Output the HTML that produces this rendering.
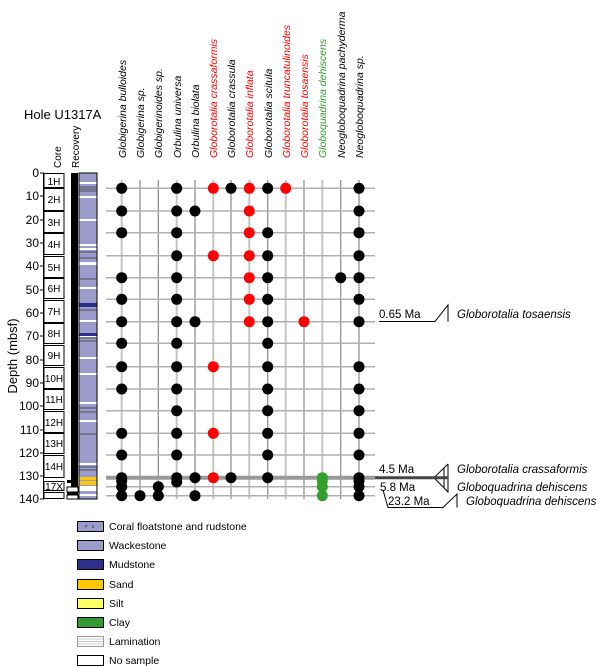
<!DOCTYPE html>
<html><head><meta charset="utf-8"><style>
body{margin:0;background:#fff}
svg{display:block;font-family:"Liberation Sans",Arial,sans-serif}
</style></head><body>
<svg width="600" height="666" viewBox="0 0 600 666" xmlns="http://www.w3.org/2000/svg">
<!-- header -->
<text x="24" y="119" font-size="13">Hole U1317A</text>
<text transform="translate(61,168) rotate(-90)" font-size="10">Core</text>
<text transform="translate(79,168) rotate(-90)" font-size="10">Recovery</text>
<g font-size="10.5" font-style="italic">
<text transform="translate(126,158) rotate(-90)">Globigerina bulloides</text>
<text transform="translate(144,158) rotate(-90)">Globigerina sp.</text>
<text transform="translate(162,158) rotate(-90)">Globigerinoides sp.</text>
<text transform="translate(181,158) rotate(-90)">Orbulina universa</text>
<text transform="translate(199,158) rotate(-90)">Orbulina biolata</text>
<text transform="translate(217,158) rotate(-90)" fill="#ff0000">Globorotalia crassaformis</text>
<text transform="translate(235,158) rotate(-90)">Globorotalia crassula</text>
<text transform="translate(253,158) rotate(-90)" fill="#ff0000">Globorotalia inflata</text>
<text transform="translate(272,158) rotate(-90)">Globorotalia scitula</text>
<text transform="translate(290,158) rotate(-90)" fill="#ff0000">Globorotalia truncatulinoides</text>
<text transform="translate(308,158) rotate(-90)" fill="#ff0000">Globorotalia tosaensis</text>
<text transform="translate(326,158) rotate(-90)" fill="#33a02c">Globoquadrina dehiscens</text>
<text transform="translate(345,158) rotate(-90)">Neogloboquadrina pachyderma</text>
<text transform="translate(363,158) rotate(-90)">Neogloboquadrina sp.</text>
</g>
<!-- depth axis -->
<text transform="translate(17,356) rotate(-90)" font-size="13" text-anchor="middle">Depth (mbsf)</text>
<g font-size="12" text-anchor="end">
<text x="39" y="177">0</text><text x="39" y="200">10</text><text x="39" y="224">20</text><text x="39" y="247">30</text>
<text x="39" y="270">40</text><text x="39" y="294">50</text><text x="39" y="317">60</text><text x="39" y="340">70</text>
<text x="39" y="364">80</text><text x="39" y="387">90</text><text x="39" y="410">100</text><text x="39" y="434">110</text>
<text x="39" y="457">120</text><text x="39" y="480">130</text><text x="39" y="503">140</text>
</g>
<line x1="43.5" y1="173" x2="43.5" y2="499" stroke="#000" stroke-width="1"/>
<g stroke="#000" stroke-width="1">
<line x1="40" y1="173" x2="44" y2="173"/><line x1="40" y1="196" x2="44" y2="196"/><line x1="40" y1="220" x2="44" y2="220"/>
<line x1="40" y1="243" x2="44" y2="243"/><line x1="40" y1="266" x2="44" y2="266"/><line x1="40" y1="290" x2="44" y2="290"/>
<line x1="40" y1="313" x2="44" y2="313"/><line x1="40" y1="336" x2="44" y2="336"/><line x1="40" y1="360" x2="44" y2="360"/>
<line x1="40" y1="383" x2="44" y2="383"/><line x1="40" y1="406" x2="44" y2="406"/><line x1="40" y1="430" x2="44" y2="430"/>
<line x1="40" y1="453" x2="44" y2="453"/><line x1="40" y1="476" x2="44" y2="476"/><line x1="40" y1="499" x2="44" y2="499"/>
</g>
<!-- core boxes -->
<g fill="#fff" stroke="#000" stroke-width="1">
<rect x="44" y="173.5" width="20" height="14"/><rect x="44" y="188.5" width="20" height="22"/>
<rect x="44" y="211.5" width="20" height="21"/><rect x="44" y="233.5" width="20" height="21"/>
<rect x="44" y="256.5" width="20" height="21"/><rect x="44" y="278.5" width="20" height="20"/>
<rect x="44" y="300.5" width="20" height="22"/><rect x="44" y="323.5" width="20" height="20"/>
<rect x="44" y="345.5" width="20" height="20"/><rect x="44" y="367.5" width="20" height="21"/>
<rect x="44" y="389.5" width="20" height="20"/><rect x="44" y="411.5" width="20" height="21"/>
<rect x="44" y="433.5" width="20" height="20"/><rect x="44" y="455.5" width="20" height="22"/>
<rect x="44" y="481.5" width="20" height="9"/><rect x="44" y="492.5" width="20" height="6"/>
</g>
<g font-size="10" text-anchor="middle">
<text x="54" y="185">1H</text><text x="54" y="203">2H</text><text x="54" y="226">3H</text><text x="54" y="248">4H</text>
<text x="54" y="271">5H</text><text x="54" y="292">6H</text><text x="54" y="315">7H</text><text x="54" y="337">8H</text>
<text x="54" y="359">9H</text><text x="54" y="382">10H</text><text x="54" y="403">11H</text><text x="54" y="426">12H</text>
<text x="54" y="447">13H</text><text x="54" y="470">14H</text><text x="54" y="490">17X</text>
</g>
<!-- recovery -->
<rect x="71" y="173" width="7" height="314" fill="#000"/>
<rect x="67" y="480" width="11" height="3" fill="#000"/>
<rect x="67" y="487" width="11" height="5" fill="#fff" stroke="#000"/>
<rect x="67" y="492" width="11" height="3" fill="#000"/>
<rect x="67" y="495" width="11" height="4" fill="#fff" stroke="#000"/>
<!-- lithology -->
<rect x="79" y="173" width="18" height="326" fill="#9c9ccc" stroke="#000" stroke-width="1"/>
<g fill="#fff">
<rect x="79.5" y="182" width="17" height="2"/><rect x="79.5" y="196" width="17" height="2"/>
<rect x="79.5" y="219" width="17" height="2"/><rect x="79.5" y="244" width="17" height="2"/>
<rect x="79.5" y="248" width="17" height="2"/><rect x="79.5" y="262" width="17" height="3"/>
<rect x="79.5" y="287" width="17" height="2"/><rect x="79.5" y="320" width="17" height="2"/>
<rect x="79.5" y="335" width="17" height="2"/><rect x="79.5" y="357" width="17" height="2"/>
<rect x="79.5" y="373" width="17" height="2"/><rect x="79.5" y="402" width="17" height="2"/>
<rect x="79.5" y="420" width="17" height="2"/><rect x="79.5" y="463" width="17" height="2"/>
<rect x="79.5" y="486" width="17" height="5"/><rect x="79.5" y="494" width="17" height="2"/>
</g>
<g stroke="#333" stroke-width="0.8">
<line x1="79" y1="187" x2="97" y2="187"/><line x1="79" y1="189" x2="97" y2="189"/><line x1="79" y1="191" x2="97" y2="191"/>
<line x1="79" y1="252" x2="97" y2="252"/><line x1="79" y1="258" x2="97" y2="258"/><line x1="79" y1="279" x2="97" y2="279"/>
<line x1="79" y1="310" x2="97" y2="310"/><line x1="79" y1="338" x2="97" y2="338"/><line x1="79" y1="341" x2="97" y2="341"/>
<line x1="79" y1="408" x2="97" y2="408"/><line x1="79" y1="412" x2="97" y2="412"/><line x1="79" y1="434" x2="97" y2="434"/>
<line x1="79" y1="467" x2="97" y2="467"/><line x1="79" y1="470" x2="97" y2="470"/>
</g>
<rect x="79.5" y="303" width="17" height="4" fill="#2e2e8c"/>
<rect x="79.5" y="333" width="17" height="3" fill="#2e2e8c"/>
<rect x="79.5" y="477" width="17" height="8" fill="#ffc800"/>
<rect x="79.5" y="480" width="17" height="1" fill="#9c9ccc"/>
<!-- grid -->
<g stroke="#c4c4c4" stroke-width="2">
<line x1="121.7" y1="180" x2="121.7" y2="499"/><line x1="176.7" y1="180" x2="176.7" y2="499"/>
<line x1="213.3" y1="180" x2="213.3" y2="499"/><line x1="249.3" y1="180" x2="249.3" y2="499"/>
<line x1="285.7" y1="180" x2="285.7" y2="499"/><line x1="322.3" y1="180" x2="322.3" y2="499"/>
</g>
<g stroke="#8a8a8a" stroke-width="1.2">
<line x1="140" y1="180" x2="140" y2="499"/><line x1="158.3" y1="180" x2="158.3" y2="499"/>
<line x1="195" y1="180" x2="195" y2="499"/><line x1="231" y1="180" x2="231" y2="499"/>
<line x1="267.7" y1="180" x2="267.7" y2="499"/><line x1="304" y1="180" x2="304" y2="499"/>
<line x1="340.7" y1="180" x2="340.7" y2="499"/><line x1="359" y1="180" x2="359" y2="499"/>
</g>
<g stroke="#b0b0b0" stroke-width="1.5">
<line x1="106" y1="188.3" x2="375" y2="188.3"/><line x1="106" y1="211" x2="375" y2="211"/>
<line x1="106" y1="232.7" x2="375" y2="232.7"/><line x1="106" y1="255.7" x2="375" y2="255.7"/>
<line x1="106" y1="277.7" x2="375" y2="277.7"/><line x1="106" y1="299.3" x2="375" y2="299.3"/>
<line x1="106" y1="321.7" x2="375" y2="321.7"/><line x1="106" y1="343.3" x2="375" y2="343.3"/>
<line x1="106" y1="366.7" x2="375" y2="366.7"/><line x1="106" y1="389" x2="375" y2="389"/>
<line x1="106" y1="410.7" x2="375" y2="410.7"/><line x1="106" y1="433.3" x2="375" y2="433.3"/>
<line x1="106" y1="455" x2="375" y2="455"/>
<line x1="106" y1="486.7" x2="375" y2="486.7"/><line x1="106" y1="495.7" x2="375" y2="495.7"/>
</g>
<line x1="106" y1="477.7" x2="375" y2="477.7" stroke="#999" stroke-width="4"/>
<!-- dots -->
<g fill="#000">
<circle cx="121.7" cy="188.3" r="5.5"/><circle cx="176.7" cy="188.3" r="5.5"/><circle cx="231" cy="188.3" r="5.5"/><circle cx="267.7" cy="188.3" r="5.5"/><circle cx="359" cy="188.3" r="5.5"/>
<circle cx="121.7" cy="211" r="5.5"/><circle cx="176.7" cy="211" r="5.5"/><circle cx="195" cy="211" r="5.5"/><circle cx="359" cy="211" r="5.5"/>
<circle cx="121.7" cy="232.7" r="5.5"/><circle cx="176.7" cy="232.7" r="5.5"/><circle cx="267.7" cy="232.7" r="5.5"/><circle cx="359" cy="232.7" r="5.5"/>
<circle cx="176.7" cy="255.7" r="5.5"/><circle cx="267.7" cy="255.7" r="5.5"/><circle cx="359" cy="255.7" r="5.5"/>
<circle cx="121.7" cy="277.7" r="5.5"/><circle cx="176.7" cy="277.7" r="5.5"/><circle cx="267.7" cy="277.7" r="5.5"/><circle cx="340.7" cy="277.7" r="5.5"/><circle cx="359" cy="277.7" r="5.5"/>
<circle cx="121.7" cy="299.3" r="5.5"/><circle cx="176.7" cy="299.3" r="5.5"/><circle cx="267.7" cy="299.3" r="5.5"/><circle cx="359" cy="299.3" r="5.5"/>
<circle cx="121.7" cy="321.7" r="5.5"/><circle cx="176.7" cy="321.7" r="5.5"/><circle cx="195" cy="321.7" r="5.5"/><circle cx="267.7" cy="321.7" r="5.5"/><circle cx="359" cy="321.7" r="5.5"/>
<circle cx="121.7" cy="343.3" r="5.5"/><circle cx="176.7" cy="343.3" r="5.5"/><circle cx="267.7" cy="343.3" r="5.5"/>
<circle cx="121.7" cy="366.7" r="5.5"/><circle cx="176.7" cy="366.7" r="5.5"/><circle cx="267.7" cy="366.7" r="5.5"/><circle cx="359" cy="366.7" r="5.5"/>
<circle cx="121.7" cy="389" r="5.5"/><circle cx="176.7" cy="389" r="5.5"/><circle cx="267.7" cy="389" r="5.5"/><circle cx="359" cy="389" r="5.5"/>
<circle cx="176.7" cy="410.7" r="5.5"/><circle cx="267.7" cy="410.7" r="5.5"/><circle cx="359" cy="410.7" r="5.5"/>
<circle cx="121.7" cy="433.3" r="5.5"/><circle cx="176.7" cy="433.3" r="5.5"/><circle cx="267.7" cy="433.3" r="5.5"/><circle cx="359" cy="433.3" r="5.5"/>
<circle cx="121.7" cy="455" r="5.5"/><circle cx="176.7" cy="455" r="5.5"/><circle cx="267.7" cy="455" r="5.5"/><circle cx="359" cy="455" r="5.5"/>
<circle cx="121.7" cy="477.7" r="5.5"/><circle cx="121.7" cy="481" r="5.5"/><circle cx="176.7" cy="477.7" r="5.5"/><circle cx="176.7" cy="482" r="5.5"/><circle cx="195" cy="477.7" r="5.5"/><circle cx="231" cy="477.7" r="5.5"/><circle cx="267.7" cy="477.7" r="5.5"/><circle cx="359" cy="477.7" r="5.5"/><circle cx="359" cy="481" r="5.5"/>
<circle cx="121.7" cy="486.7" r="5.5"/><circle cx="158.3" cy="486.7" r="5.5"/><circle cx="359" cy="486.7" r="5.5"/>
<circle cx="121.7" cy="495.7" r="5.5"/><circle cx="140" cy="495.7" r="5.5"/><circle cx="158.3" cy="495.7" r="5.5"/><circle cx="195" cy="495.7" r="5.5"/><circle cx="359" cy="495.7" r="5.5"/>
</g>
<g fill="#ff0000">
<circle cx="213.3" cy="188.3" r="5.5"/><circle cx="249.3" cy="188.3" r="5.5"/><circle cx="285.7" cy="188.3" r="5.5"/>
<circle cx="249.3" cy="211" r="5.5"/><circle cx="249.3" cy="232.7" r="5.5"/>
<circle cx="213.3" cy="255.7" r="5.5"/><circle cx="249.3" cy="255.7" r="5.5"/>
<circle cx="249.3" cy="277.7" r="5.5"/><circle cx="249.3" cy="299.3" r="5.5"/>
<circle cx="249.3" cy="321.7" r="5.5"/><circle cx="304" cy="321.7" r="5.5"/>
<circle cx="213.3" cy="366.7" r="5.5"/><circle cx="213.3" cy="433.3" r="5.5"/><circle cx="213.3" cy="477.7" r="5.5"/>
</g>
<g fill="#33a02c">
<circle cx="322.3" cy="477.7" r="5.5"/><circle cx="322.3" cy="481" r="5.5"/><circle cx="322.3" cy="486.7" r="5.5"/><circle cx="322.3" cy="495.7" r="5.5"/>
</g>
<!-- datums -->
<g font-size="11.5">
<text x="379" y="318">0.65 Ma</text>
<text x="379" y="473">4.5 Ma</text>
<text x="380" y="491">5.8 Ma</text>
<text x="388" y="505">23.2 Ma</text>
</g>
<g font-size="11.5" font-style="italic">
<text x="457" y="318">Globorotalia tosaensis</text>
<text x="457" y="473">Globorotalia crassaformis</text>
<text x="457" y="491">Globoquadrina dehiscens</text>
<text x="466" y="505">Globoquadrina dehiscens</text>
</g>
<g fill="none" stroke="#000" stroke-width="1">
<polyline points="379,321.5 435,321.5 448,305 448,321.5"/>
<polyline points="448,464 434,477.7 448,492 448,464"/>
<line x1="444" y1="468" x2="444" y2="488"/>
<polyline points="383,490 388,507.5 443,507.5 457,494 457,507.5"/>
</g>
<line x1="375" y1="477.7" x2="448" y2="477.7" stroke="#444" stroke-width="3"/>
<!-- legend -->
<g stroke="#000" stroke-width="1">
<rect x="77.5" y="521.5" width="26" height="10" fill="#9c9ccc"/>
<rect x="77.5" y="540.5" width="26" height="10" fill="#9c9ccc"/>
<rect x="77.5" y="559.5" width="26" height="10" fill="#2e2e8c"/>
<rect x="77.5" y="579.5" width="26" height="10" fill="#ffc800"/>
<rect x="77.5" y="598.5" width="26" height="10" fill="#ffff66"/>
<rect x="77.5" y="617.5" width="26" height="10" fill="#339933"/>
<rect x="77.5" y="636.5" width="26" height="10" fill="#fff" stroke="#999"/>
<rect x="77.5" y="655.5" width="26" height="10" fill="#fff"/>
</g>
<g stroke="#ccc" stroke-width="1"><line x1="78" y1="639" x2="103" y2="639"/><line x1="78" y1="641.5" x2="103" y2="641.5"/><line x1="78" y1="644" x2="103" y2="644"/></g>
<g stroke="#336" stroke-width="1"><line x1="85" y1="527" x2="87" y2="525"/><line x1="93" y1="528" x2="93" y2="525"/></g>
<g font-size="10.5">
<text x="109" y="530">Coral floatstone and rudstone</text>
<text x="109" y="549">Wackestone</text>
<text x="109" y="568">Mudstone</text>
<text x="109" y="588">Sand</text>
<text x="109" y="607">Silt</text>
<text x="109" y="626">Clay</text>
<text x="109" y="645">Lamination</text>
<text x="109" y="664">No sample</text>
</g>
</svg>
</body></html>
